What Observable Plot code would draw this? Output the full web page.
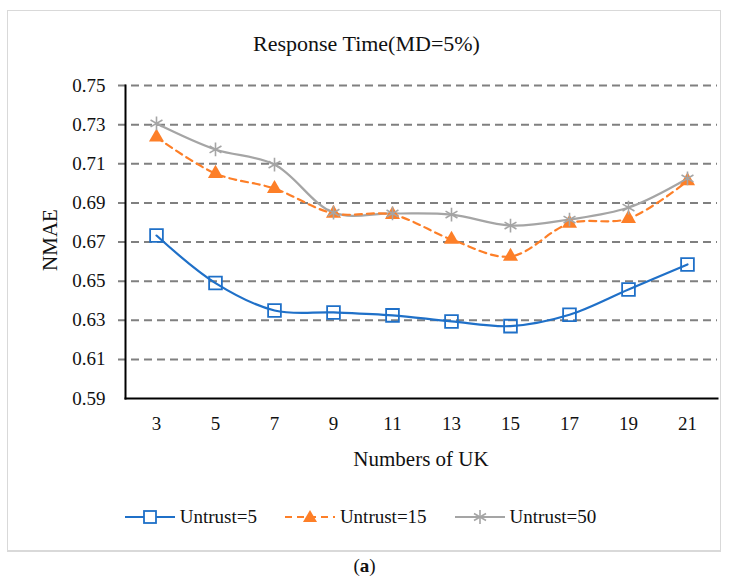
<!DOCTYPE html>
<html><head><meta charset="utf-8">
<script src="https://cdn.jsdelivr.net/npm/d3@7"></script>
<script src="https://cdn.jsdelivr.net/npm/@observablehq/plot@0.6"></script>
<style>
body{margin:0;background:#fff;}
#wrap{position:relative;width:729px;height:581px;font-family:'Liberation Serif';}
#border{position:absolute;left:7px;top:10px;width:712px;height:539px;border:1.5px solid #d9d9d9;border-bottom-width:2px;}
#title{position:absolute;top:31px;left:0;width:729px;text-align:center;font-size:22px;color:#111;padding-left:2px;font-family:'Liberation Serif';}
#chart{position:absolute;left:0;top:0;}
#chart svg text{font-family:'Liberation Serif' !important;font-size:19px !important;fill:#111;}
#ylab{position:absolute;left:50px;top:240px;transform:translate(-50%,-50%) rotate(-90deg);font-size:21px;color:#111;white-space:nowrap;font-family:'Liberation Serif';}
#xlab{position:absolute;top:447px;left:125px;width:592px;text-align:center;font-size:21px;color:#111;font-family:'Liberation Serif';}
#legend{position:absolute;top:506px;left:0;width:729px;display:flex;justify-content:center;gap:28px;font-size:19px;color:#111;box-sizing:border-box;padding-right:8px;font-family:'Liberation Serif';}
.item{display:flex;align-items:center;gap:5px;}
#caption{position:absolute;top:555px;left:0;width:729px;text-align:center;font-size:19px;color:#111;font-family:'Liberation Serif';}
</style></head>
<body><div id="wrap">
<div id="border"></div>
<div id="title">Response Time(MD=5%)</div>
<div id="chart"></div>
<div id="ylab">NMAE</div>
<div id="xlab">Numbers of UK</div>
<div id="legend"></div>
<div id="caption">(<b>a</b>)</div>
</div>
<script>
const categories = [3, 5, 7, 9, 11, 13, 15, 17, 19, 21];
const untrust5  = [0.6733, 0.6490, 0.6350, 0.6340, 0.6325, 0.6294, 0.6270, 0.6328, 0.6457, 0.6585];
const untrust15 = [0.7236, 0.7050, 0.6973, 0.6846, 0.6840, 0.6713, 0.6626, 0.6795, 0.6820, 0.7012];
const untrust50 = [0.7306, 0.7173, 0.7096, 0.6850, 0.6846, 0.6840, 0.6784, 0.6815, 0.6876, 0.7025];
const yTicks = [0.59, 0.61, 0.63, 0.65, 0.67, 0.69, 0.71, 0.73, 0.75];
const seriesNames = ["Untrust=5", "Untrust=15", "Untrust=50"];

const colors = {"Untrust=5": "#1f70c8", "Untrust=15": "#fd7f28", "Untrust=50": "#a5a5a5"};
const rows = [];
[untrust5, untrust15, untrust50].forEach((vals, i) =>
  vals.forEach((v, j) => rows.push({series: seriesNames[i], k: categories[j], v})));
const bySeries = s => rows.filter(r => r.series === s);

const chart = Plot.plot({
  width: 729, height: 480,
  marginLeft: 125, marginRight: 12, marginTop: 85, marginBottom: 82,
  style: {fontFamily: "'Liberation Serif'", fontSize: "19px", color: "#111", background: "transparent"},
  x: {type: "point", domain: categories, padding: 0.5},
  y: {domain: [0.59, 0.75]},
  marks: [
    Plot.ruleY(yTicks.slice(1), {stroke: "#808080", strokeWidth: 2, strokeDasharray: "8,5", insetLeft: -7}),
    Plot.frame({anchor: "left", stroke: "#000", strokeWidth: 2}),
    Plot.frame({anchor: "bottom", stroke: "#000", strokeWidth: 2}),
    Plot.axisY({ticks: yTicks, tickSize: 0, tickPadding: 20, tickFormat: d3.format(".2f"), label: null, fontSize: 19}),
    Plot.axisX({tickSize: 0, tickPadding: 18, label: null, fontSize: 19}),
    Plot.line(bySeries("Untrust=50"), {x: "k", y: "v", stroke: colors["Untrust=50"], strokeWidth: 2.2, curve: "catmull-rom"}),
    Plot.line(bySeries("Untrust=15"), {x: "k", y: "v", stroke: colors["Untrust=15"], strokeWidth: 2.2, strokeDasharray: "7,5", curve: "catmull-rom"}),
    Plot.line(bySeries("Untrust=5"), {x: "k", y: "v", stroke: colors["Untrust=5"], strokeWidth: 2.2, curve: "catmull-rom"}),
    Plot.dot(bySeries("Untrust=5"), {x: "k", y: "v", symbol: "square", r: 7.2, stroke: colors["Untrust=5"], fill: "none", strokeWidth: 1.8}),
    Plot.dot(bySeries("Untrust=15"), {x: "k", y: "v", symbol: "triangle", r: 5.6, fill: colors["Untrust=15"], stroke: "none"}),
    Plot.dot(bySeries("Untrust=50"), {x: "k", y: "v", symbol: "asterisk", r: 6.5, stroke: colors["Untrust=50"], strokeWidth: 1.6})
  ]
});
document.getElementById("chart").appendChild(chart);

// legend
const leg = document.getElementById("legend");
const sym = {
  "Untrust=5": `<rect x="19" y="5" width="12" height="12" fill="white" stroke="${colors["Untrust=5"]}" stroke-width="1.8"/>`,
  "Untrust=15": `<path d="M25,4 L32,16 L18,16 Z" fill="${colors["Untrust=15"]}"/>`,
  "Untrust=50": `<g stroke="${colors["Untrust=50"]}" stroke-width="1.6"><line x1="25" y1="4" x2="25" y2="18"/><line x1="19" y1="7.5" x2="31" y2="14.5"/><line x1="19" y1="14.5" x2="31" y2="7.5"/></g>`
};
seriesNames.forEach(s => {
  const dash = s === "Untrust=15" ? ' stroke-dasharray="7,5"' : "";
  const el = document.createElement("div");
  el.className = "item";
  el.innerHTML = `<svg width="50" height="22"><line x1="0" y1="11" x2="50" y2="11" stroke="${colors[s]}" stroke-width="2.2"${dash}/>${sym[s]}</svg><span>${s}</span>`;
  leg.appendChild(el);
});
</script>
</body></html>
